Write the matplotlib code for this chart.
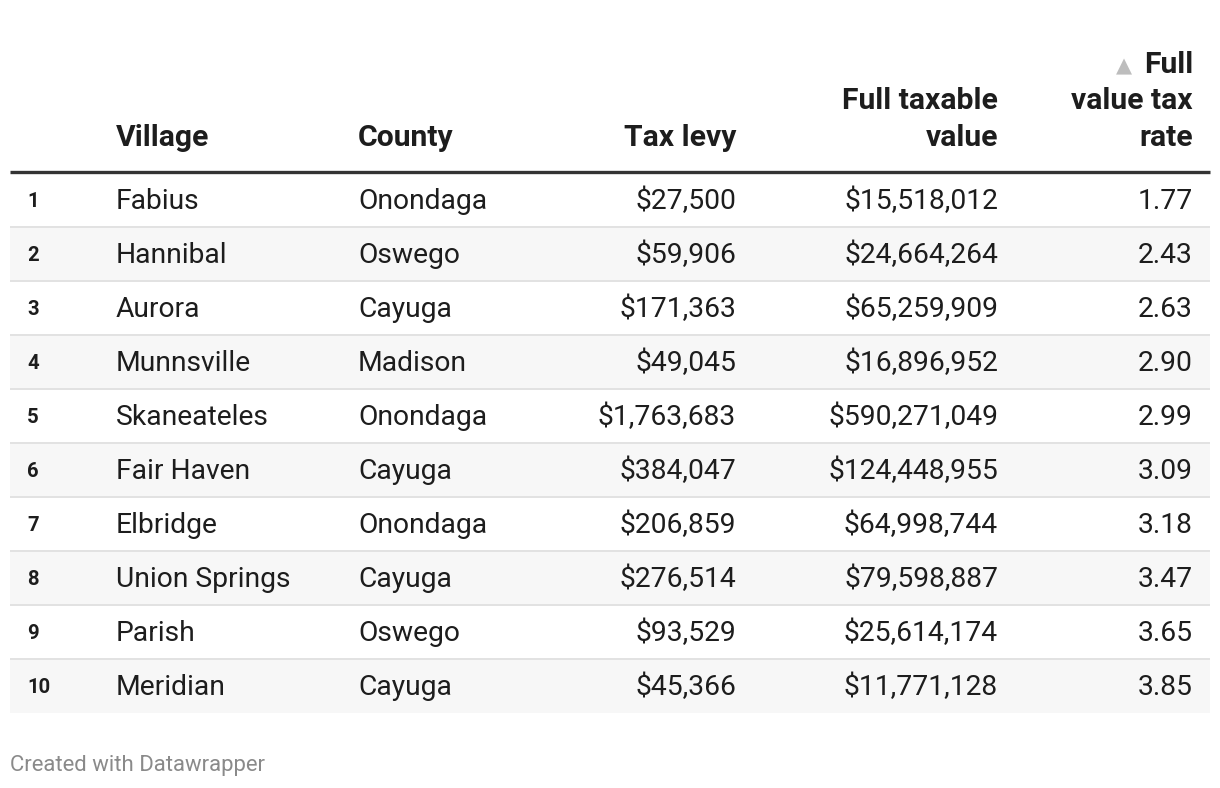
import matplotlib
matplotlib.use("Agg")
import matplotlib.pyplot as plt
from matplotlib.patches import Rectangle

ranks = [1, 2, 3, 4, 5, 6, 7, 8, 9, 10]
villages = ["Fabius", "Hannibal", "Aurora", "Munnsville", "Skaneateles",
            "Fair Haven", "Elbridge", "Union Springs", "Parish", "Meridian"]
counties = ["Onondaga", "Oswego", "Cayuga", "Madison", "Onondaga",
            "Cayuga", "Onondaga", "Cayuga", "Oswego", "Cayuga"]
tax_levy = [27500, 59906, 171363, 49045, 1763683, 384047, 206859, 276514, 93529, 45366]
full_value = [15518012, 24664264, 65259909, 16896952, 590271049, 124448955,
              64998744, 79598887, 25614174, 11771128]
tax_rate = [1.77, 2.43, 2.63, 2.90, 2.99, 3.09, 3.18, 3.47, 3.65, 3.85]
headers = ["Village", "County", "Tax levy", "Full taxable\nvalue", "Full\nvalue tax\nrate"]
footer = "Created with Datawrapper"

W, H = 1220, 788
fig = plt.figure(figsize=(W / 100, H / 100), dpi=100)
ax = fig.add_axes([0, 0, 1, 1])
ax.set_xlim(0, W)
ax.set_ylim(H, 0)
ax.axis("off")

FONT = ["Roboto", "DejaVu Sans"]
TXT = "#1d1d1d"
body_pt = 20.3
head_pt = 21.7
left, right = 10, 1210
top = 173
row_h = 54

# column anchors: (x, ha)
col_x = [(116, "left"), (358, "left"), (736, "right"), (998, "right"), (1193, "right")]

# header
line_gap = 36.5
base_y = 145.5
for (x, ha), h in zip(col_x, headers):
    lines = h.split("\n")
    n = len(lines)
    for i, ln in enumerate(lines):
        y = base_y - (n - 1 - i) * line_gap
        ax.text(x, y, ln, ha=ha, va="baseline", fontsize=head_pt,
                fontweight="bold", color=TXT, family=FONT)
# sort indicator
ax.text(1124, 72.5, "▲", ha="center", va="baseline", fontsize=15,
        color="#bdbdbd", family=["DejaVu Sans"])

ax.plot([left, right], [171.5, 171.5], color="#333333", lw=2.4,
        solid_capstyle="butt")

for i in range(len(ranks)):
    y0 = top + i * row_h
    if i % 2 == 1:
        ax.add_patch(Rectangle((left, y0), right - left, row_h,
                               facecolor="#f7f7f7", edgecolor="none"))
    if i < len(ranks) - 1:
        ax.plot([left, right], [y0 + row_h, y0 + row_h], color="#e2e2e2",
                lw=1.4, solid_capstyle="butt")
    yc = y0 + row_h / 2 + 1.5
    ax.text(27, yc, str(ranks[i]), ha="left", va="center", fontsize=14.6,
            fontweight="bold", color=TXT, family=FONT)
    vals = [villages[i], counties[i], f"${tax_levy[i]:,}",
            f"${full_value[i]:,}", f"{tax_rate[i]:.2f}"]
    for (x, ha), v in zip(col_x, vals):
        ax.text(x, yc, v, ha=ha, va="center", fontsize=body_pt,
                color=TXT, family=FONT)

ax.text(10, 765, footer, ha="left", va="center", fontsize=15.9,
        color="#8a8a8a", family=FONT)

fig.savefig("out.png", dpi=100, facecolor="white")
